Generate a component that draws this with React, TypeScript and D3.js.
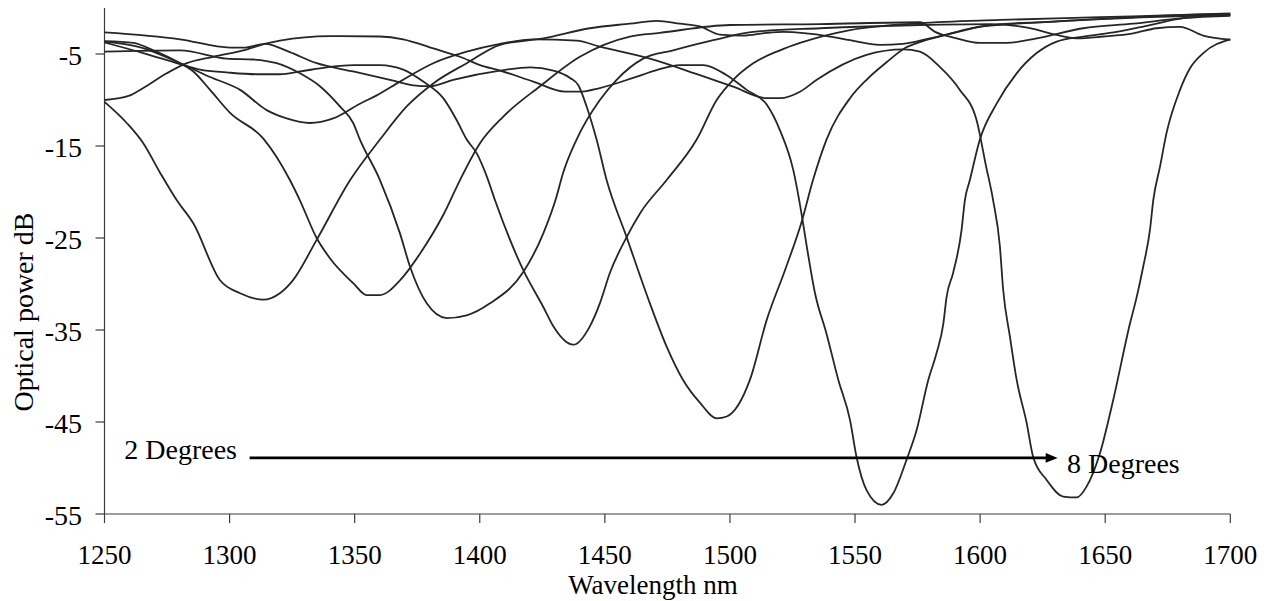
import React from 'react';
import * as d3 from 'd3';

// Wavelength (nm), optical power (dB) for each bend angle
const deg2: [number, number][] = [
  [1250, -10.2], [1258.9, -12.5], [1265.5, -14.7], [1272.2, -17.9], [1278.9, -20.9], [1285.5, -23.4],
  [1296.2, -29.6], [1304.2, -31.0], [1313.5, -31.7], [1320.1, -31.0], [1325.3, -29.6], [1334.8, -25.2],
  [1348.2, -18.7], [1360.1, -14.3], [1370.8, -10.7], [1381.4, -8.2], [1394.8, -6.0], [1408.1, -4.0],
  [1425.4, -3.3], [1444.0, -2.2], [1460.0, -1.7], [1470.7, -1.4], [1480.0, -1.7], [1488.0, -2.0],
  [1496.0, -2.9], [1505.3, -3.0], [1514.7, -2.7], [1521.3, -2.6], [1540.0, -3.1], [1548.0, -3.5],
  [1560.0, -4.0], [1569.1, -3.9], [1579.9, -3.3], [1587.9, -2.8], [1601.1, -2.0], [1614.7, -1.7],
  [1641.1, -1.3], [1667.9, -0.9], [1700, -0.65],
];
const deg3: [number, number][] = [
  [1250, -3.6], [1261.5, -3.8], [1269.5, -4.6], [1280.2, -6.0], [1285.5, -6.9], [1292.2, -8.9],
  [1300.2, -11.4], [1313.5, -14.2], [1318.8, -16.2], [1324.1, -18.7], [1328.1, -20.9], [1334.8, -25.0],
  [1340.1, -27.2], [1349.4, -29.9], [1354.8, -31.2], [1360.1, -31.2], [1368.1, -29.6], [1376.1, -26.7],
  [1385.4, -22.5], [1392.1, -18.7], [1400.1, -14.7], [1409.4, -11.8], [1424.1, -8.5], [1440.0, -5.3],
  [1460.0, -3.1], [1472.0, -2.7], [1500.0, -1.85], [1536.0, -1.75], [1575.9, -1.55], [1582, -2.6],
  [1590.6, -3.3], [1599.9, -3.8], [1610.6, -3.8], [1622.6, -3.3], [1641.2, -2.2], [1661.2, -1.7],
  [1681.2, -1.1], [1700, -0.85],
];
const deg4: [number, number][] = [
  [1250, -4.75], [1280.2, -4.6], [1298.8, -5.5], [1309.5, -5.6], [1318.8, -6.0], [1328.1, -7.1],
  [1336.1, -8.5], [1344.1, -10.7], [1349.4, -12.5], [1352.1, -14.3], [1360.1, -18.7], [1368.1, -24.5],
  [1372.1, -28.1], [1378.8, -32.1], [1386.8, -33.7], [1394.8, -33.4], [1404.1, -32.1], [1417.4, -28.7],
  [1425.4, -24.5], [1430.7, -20.5], [1433.0, -18.2], [1438.7, -14.3], [1448.0, -10.0], [1454.7, -7.8],
  [1465.3, -5.5], [1477.3, -4.6], [1493.3, -3.5], [1509.3, -2.6], [1536.0, -2.2], [1575.9, -1.85],
  [1603.9, -1.75], [1619.9, -2.2], [1627.9, -2.75], [1638.6, -3.3], [1649.2, -3.1], [1661.2, -2.75],
  [1670.5, -2.2], [1679.9, -2.05], [1689.2, -3.0], [1700, -3.45],
];
const deg5: [number, number][] = [
  [1250, -3.75], [1265.5, -4.9], [1280.2, -6.1], [1288.2, -6.7], [1298.8, -7.0], [1310.8, -7.2],
  [1320.1, -7.2], [1328.1, -6.9], [1338.8, -6.45], [1349.4, -6.2], [1360.1, -6.2], [1369.4, -6.7],
  [1377.4, -8.0], [1385.4, -9.8], [1390.8, -12.2], [1394.8, -14.3], [1398.8, -15.8], [1402.8, -18.3],
  [1406.1, -20.9], [1417.4, -28.5], [1425.4, -32.5], [1429.4, -34.6], [1437.4, -36.6], [1444.0, -34.6],
  [1448.0, -32.1], [1452.0, -28.8], [1458.7, -24.9], [1464.1, -22.3], [1474.7, -18.7], [1486.7, -14.3],
  [1494.7, -10.0], [1501.3, -7.8], [1509.3, -6.0], [1520.0, -4.6], [1528.0, -3.8], [1548.0, -2.4],
  [1575.9, -1.65], [1607.9, -1.3], [1647.9, -1.0], [1700, -0.6],
];
const deg6: [number, number][] = [
  [1250, -2.65], [1280.2, -3.4], [1300.2, -4.3], [1306.2, -4.3], [1314.1, -3.9], [1324.1, -4.8],
  [1334.8, -6.0], [1349.4, -6.9], [1364.1, -7.8], [1373.4, -8.4], [1380.1, -8.5], [1389.4, -7.8],
  [1408.1, -6.8], [1420.1, -6.45], [1429.4, -6.8], [1436.1, -7.6], [1439.4, -8.4], [1442.7, -10.7],
  [1446.7, -14.3], [1450.7, -18.7], [1458.7, -24.9], [1468.0, -32.1], [1474.7, -36.8], [1481.2, -40.4],
  [1488.0, -42.9], [1494.7, -44.6], [1498.7, -44.4], [1508.0, -40.4], [1514.7, -33.9], [1522.0, -28.5],
  [1528.7, -23.2], [1533.2, -18.7], [1538.6, -14.3], [1548.0, -9.8], [1554.6, -7.8], [1562.6, -5.9],
  [1570.0, -4.35], [1577.1, -3.6], [1586.6, -2.9], [1593.2, -2.4], [1603.9, -1.85], [1627.9, -1.5],
  [1667.9, -1.0], [1700, -0.75],
];
const deg7: [number, number][] = [
  [1250, -10.0], [1260.2, -9.5], [1265.5, -8.7], [1274.9, -7.1], [1282.9, -6.0], [1293.5, -5.3],
  [1305.5, -4.6], [1314.8, -3.85], [1320.1, -3.55], [1340.1, -3.05], [1360.1, -3.1], [1369.4, -3.4],
  [1381.4, -4.4], [1392.1, -5.3], [1400.1, -6.2], [1408.1, -6.8], [1421.4, -8.0], [1434.1, -9.1],
  [1440.0, -9.1], [1448.0, -8.7], [1461.3, -7.6], [1470.7, -6.75], [1480.0, -6.2], [1489.3, -6.2],
  [1498.7, -7.3], [1506.7, -8.9], [1514.7, -10.5], [1520.0, -13.3], [1525.3, -17.6], [1528.7, -22.5],
  [1530.7, -25.9], [1534.0, -31.0], [1538.6, -35.4], [1543.3, -40.4], [1548.0, -44.8], [1550.6, -48.8],
  [1554.6, -52.4], [1560.6, -54.0], [1565.3, -52.75], [1570.6, -49.1], [1574.6, -45.9], [1579.3, -40.4],
  [1582.6, -37.5], [1585.3, -34.3], [1586.6, -31.4], [1589.2, -28.8], [1592.6, -24.1], [1593.9, -20.9],
  [1595.9, -18.7], [1599.9, -14.3], [1606.6, -10.4], [1614.6, -7.1], [1622.6, -4.9], [1630.6, -3.65],
  [1641.2, -3.1], [1654.6, -2.6], [1667.9, -1.85], [1681.2, -1.1], [1700, -0.75],
];
const deg8: [number, number][] = [
  [1250, -3.65], [1264.0, -4.25], [1280.2, -6.0], [1292.2, -7.5], [1304.2, -8.9], [1314.8, -11.1],
  [1322.8, -12.0], [1332.1, -12.5], [1341.4, -12.0], [1352.1, -10.4], [1358.8, -9.5], [1368.1, -8.0],
  [1381.4, -6.0], [1394.8, -4.75], [1408.1, -3.9], [1421.4, -3.4], [1438.7, -3.55], [1448.0, -4.2],
  [1468.0, -5.5], [1488.0, -7.3], [1501.3, -8.55], [1514.7, -9.8], [1520.0, -9.8], [1528.0, -9.1],
  [1534.7, -7.8], [1554.6, -5.1], [1569.3, -4.5], [1575.9, -4.75], [1583.9, -6.4], [1591.9, -8.9],
  [1598.6, -12.2], [1602.3, -17.1], [1605.2, -20.9], [1607.9, -25.9], [1609.2, -30.6], [1611.9, -35.7],
  [1614.6, -40.4], [1618.6, -45.1], [1621.2, -48.8], [1626.6, -51.3], [1633.2, -53.1], [1638.6, -53.2],
  [1642.6, -52.0], [1647.9, -48.4], [1653.2, -42.6], [1659.9, -34.3], [1662.6, -31.4], [1665.2, -28.1],
  [1667.9, -24.1], [1669.2, -20.9], [1671.9, -17.25], [1674.5, -13.6], [1679.9, -8.9], [1683.9, -6.55],
  [1689.2, -4.9], [1700, -3.4],
];

const SERIES = [deg2, deg3, deg4, deg5, deg6, deg7, deg8];
const X_TICKS = [1250, 1300, 1350, 1400, 1450, 1500, 1550, 1600, 1650, 1700];
const Y_TICKS = [-5, -15, -25, -35, -45, -55];
const X_TITLE = 'Wavelength nm';
const Y_TITLE = 'Optical power dB';
const LABEL_START = '2 Degrees';
const LABEL_END = '8 Degrees';
// arrow annotation in data units: from wavelength, to wavelength, at power level
const ARROW_FROM = 1308;
const ARROW_TO = 1631;
const ARROW_LEVEL = -48.9;

const FONT = '"Liberation Serif", "Times New Roman", serif';

export default function App() {
  const x = d3.scaleLinear().domain([1250, 1700]).range([104.5, 1230.3]);
  const y = d3.scaleLinear().domain([-55, 0]).range([514, 8]);
  const line = d3
    .line<[number, number]>()
    .x((d) => x(d[0]))
    .y((d) => y(d[1]))
    .curve(d3.curveMonotoneX);

  const axisColor = '#3c3c3c';
  const ay = y(ARROW_LEVEL);
  const ax1 = x(ARROW_FROM);
  const ax2 = x(ARROW_TO);

  return (
    <svg
      width={1267}
      height={601}
      style={{ position: 'absolute', left: 0, top: 0, background: '#fff' }}
      fontFamily={FONT}
    >
      <rect x={0} y={0} width={1267} height={601} fill="#fff" />
      {/* axes */}
      <line x1={x(1250)} x2={x(1250)} y1={y(0)} y2={y(-55)} stroke={axisColor} strokeWidth={1.2} />
      <line x1={x(1250)} x2={x(1700)} y1={y(-55)} y2={y(-55)} stroke={axisColor} strokeWidth={1.2} />
      {Y_TICKS.map((t) => (
        <g key={'y' + t}>
          <line x1={x(1250) - 9} x2={x(1250)} y1={y(t)} y2={y(t)} stroke={axisColor} strokeWidth={1.2} />
          <text x={82} y={y(t) + 10.5} textAnchor="end" fontSize={28} fill="#000">
            {t}
          </text>
        </g>
      ))}
      {X_TICKS.map((t) => (
        <g key={'x' + t}>
          <line x1={x(t)} x2={x(t)} y1={y(-55)} y2={y(-55) + 9} stroke={axisColor} strokeWidth={1.2} />
          <text x={x(t)} y={564} textAnchor="middle" fontSize={27} fill="#000">
            {t}
          </text>
        </g>
      ))}
      {/* titles */}
      <text x={653} y={594} textAnchor="middle" fontSize={27} fill="#000">
        {X_TITLE}
      </text>
      <text
        transform={`translate(33,${312}) rotate(-90)`}
        textAnchor="middle"
        fontSize={28}
        fill="#000"
      >
        {Y_TITLE}
      </text>
      {/* curves */}
      {SERIES.map((s, i) => (
        <path
          key={i}
          d={line(s) || ''}
          fill="none"
          stroke="#262626"
          strokeWidth={1.8}
          strokeLinejoin="round"
        />
      ))}
      {/* annotation */}
      <line x1={ax1} x2={ax2 - 10} y1={ay} y2={ay} stroke="#000" strokeWidth={2.6} />
      <polygon
        points={`${ax2},${ay} ${ax2 - 12},${ay - 4.8} ${ax2 - 12},${ay + 4.8}`}
        fill="#000"
      />
      <text x={237} y={459} textAnchor="end" fontSize={28} fill="#000">
        {LABEL_START}
      </text>
      <text x={1067} y={473} textAnchor="start" fontSize={28} fill="#000">
        {LABEL_END}
      </text>
    </svg>
  );
}
